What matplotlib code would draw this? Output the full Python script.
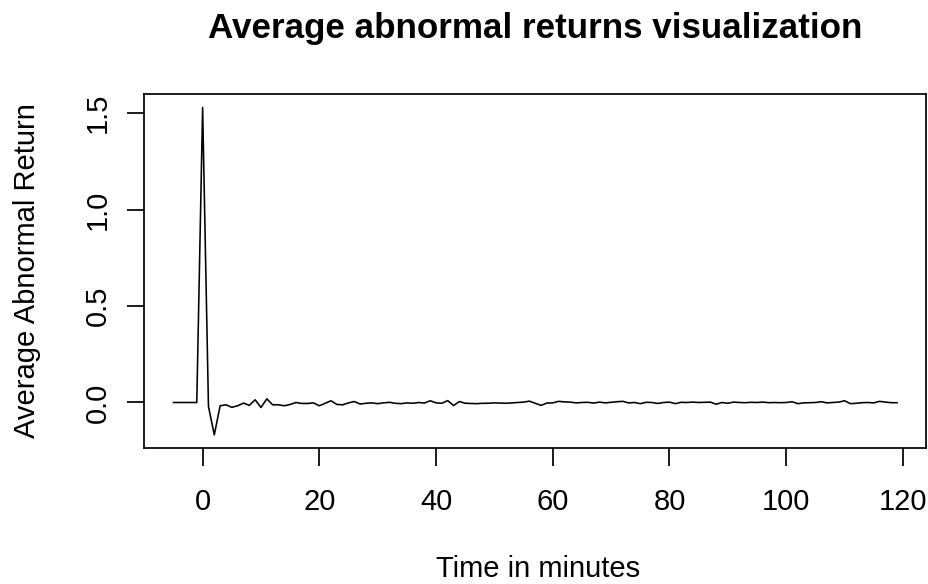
import matplotlib
matplotlib.use("Agg")
import matplotlib.pyplot as plt

plt.rcParams['font.family'] = ['Liberation Sans', 'DejaVu Sans']

minutes = list(range(-5, 120))
# average abnormal return for minutes -5..119
aar = [
    0.000, 0.000, 0.000, 0.000, 0.000,                       # -5..-1
    1.530, -0.020, -0.168, -0.017, -0.012,                   # 0..4
    -0.025, -0.017, -0.003, -0.015, 0.014,                   # 5..9
    -0.026, 0.019, -0.012, -0.012, -0.017,                   # 10..14
    -0.010, 0.000, -0.005, -0.005, -0.002,                   # 15..19
    -0.017, -0.004, 0.009, -0.010, -0.012,                   # 20..24
    -0.002, 0.005, -0.008, -0.004, -0.002,                   # 25..29
    -0.006, -0.002, 0.001, -0.004, -0.006,                   # 30..34
    -0.002, -0.004, 0.000, -0.003, 0.009,                    # 35..39
    -0.002, -0.004, 0.010, -0.016, 0.005,                    # 40..44
    -0.004, -0.005, -0.006, -0.004, -0.004,                  # 45..49
    -0.002, -0.003, -0.004, -0.002, 0.000,                   # 50..54
    0.002, 0.007, -0.004, -0.015, -0.003,                    # 55..59
    -0.002, 0.006, 0.003, 0.002, -0.002,                     # 60..64
    0.000, 0.001, -0.003, 0.002, -0.002,                     # 65..69
    0.001, 0.004, 0.006, -0.002, 0.000,                      # 70..74
    -0.006, 0.001, 0.000, -0.005, 0.000,                     # 75..79
    0.002, -0.006, 0.001, 0.000, 0.002,                      # 80..84
    0.000, 0.001, 0.002, -0.009, 0.000,                      # 85..89
    -0.004, 0.002, 0.000, -0.001, 0.001,                     # 90..94
    0.000, 0.002, -0.001, 0.000, -0.001,                     # 95..99
    0.000, 0.004, -0.006, -0.002, -0.001,                    # 100..104
    0.000, 0.004, -0.002, 0.000, 0.002,                      # 105..109
    0.009, -0.006, -0.004, -0.001, 0.000,                    # 110..114
    -0.002, 0.006, 0.002, -0.001, -0.001,                    # 115..119
]
xticks = [0, 20, 40, 60, 80, 100, 120]
yticks = [0.0, 0.5, 1.0, 1.5]
ytick_labels = ["0.0", "0.5", "1.0", "1.5"]

W, H = 929, 584
fig = plt.figure(figsize=(W/100, H/100), dpi=100)
L, R, T, B = 144.5, 926, 94.3, 448
ax = fig.add_axes([L/W, 1-B/H, (R-L)/W, (B-T)/H])
ax.plot(minutes, aar, color='black', linewidth=1.15)

xr = max(minutes) - min(minutes)
ax.set_xlim(min(minutes) - 0.04*xr, max(minutes) + 0.04*xr)
yr = max(aar) - min(aar)
ax.set_ylim(min(aar) - 0.04*yr, max(aar) + 0.04*yr)

ax.set_xticks(xticks)
ax.set_xticklabels([str(t) for t in xticks])
ax.set_yticks(yticks)
ax.set_yticklabels(ytick_labels)
ax.tick_params(axis='both', direction='out', length=12.6, width=1.25, labelsize=21, colors='black')
ax.tick_params(axis='x', pad=16.3)
ax.tick_params(axis='y', pad=15.5)
for lab in ax.get_yticklabels():
    lab.set_rotation(90)
    lab.set_rotation_mode('anchor')
    lab.set_ha('center')
    lab.set_va('baseline')
for s in ax.spines.values():
    s.set_linewidth(1.25)
    s.set_color('black')

fig.text(535/W, 1-38/H, "Average abnormal returns visualization", ha='center', va='baseline',
         fontsize=25.2, fontweight='bold')
fig.text(538/W, 1-577/H, "Time in minutes", ha='center', va='baseline', fontsize=21)
fig.text(35/W, 1-271/H, "Average Abnormal Return", ha='center', va='baseline', fontsize=21,
         rotation=90, rotation_mode='anchor')

fig.savefig("out.png", dpi=100)
